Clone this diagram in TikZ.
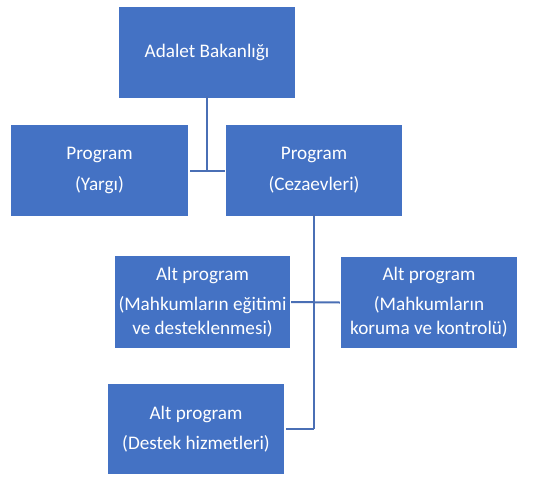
\documentclass[tikz,border=0pt]{standalone}
\usepackage{fontspec}
\setmainfont{Carlito}
\definecolor{boxblue}{HTML}{4472C4}
\definecolor{lineblue}{HTML}{4A6FB5}
\begin{document}
\begin{tikzpicture}[x=1pt,y=-1pt,
  orgbox/.style={rectangle, fill=boxblue, text=white, align=center,
    inner sep=0pt, font=\fontsize{19.2}{24}\selectfont},
  link/.style={draw=lineblue, line width=2pt}]
\useasboundingbox[fill=white] (0,0) rectangle (548,477);
\node[orgbox, minimum width=176, minimum height=91] (top) at (207,52.5) {Adalet Bakanlığı};
\node[orgbox, minimum width=177, minimum height=91] (yargi) at (99.5,170.5) {Program\\[7pt](Yargı)};
\node[orgbox, minimum width=176, minimum height=91] (ceza) at (314,170.5) {Program\\[7pt](Cezaevleri)};
\node[orgbox, minimum width=175, minimum height=92] (alt1) at (202.5,302) {Alt program\\[6pt](Mahkumların eğitimi\\ve desteklenmesi)};
\node[orgbox, minimum width=176, minimum height=91] (alt2) at (429,302.5) {Alt program\\[6pt](Mahkumların\\koruma ve kontrolü)};
\node[orgbox, minimum width=176, minimum height=90] (alt3) at (196,429) {Alt program\\[6pt](Destek hizmetleri)};
\coordinate (j1) at (top.south |- yargi.east);
\coordinate (j2) at (ceza.south |- alt3.east);
\draw[link] ([yshift=2pt]top.south) -- (j1);
\draw[link] ([xshift=2pt]yargi.east) -- ([xshift=-1pt]ceza.west);
\draw[link] ([yshift=2pt]ceza.south) -- (j2);
\draw[link] ([xshift=1pt]alt1.east) -- ([xshift=-1pt]alt2.west);
\draw[link] ([xshift=2pt]alt3.east) -- (j2);
\end{tikzpicture}
\end{document}
